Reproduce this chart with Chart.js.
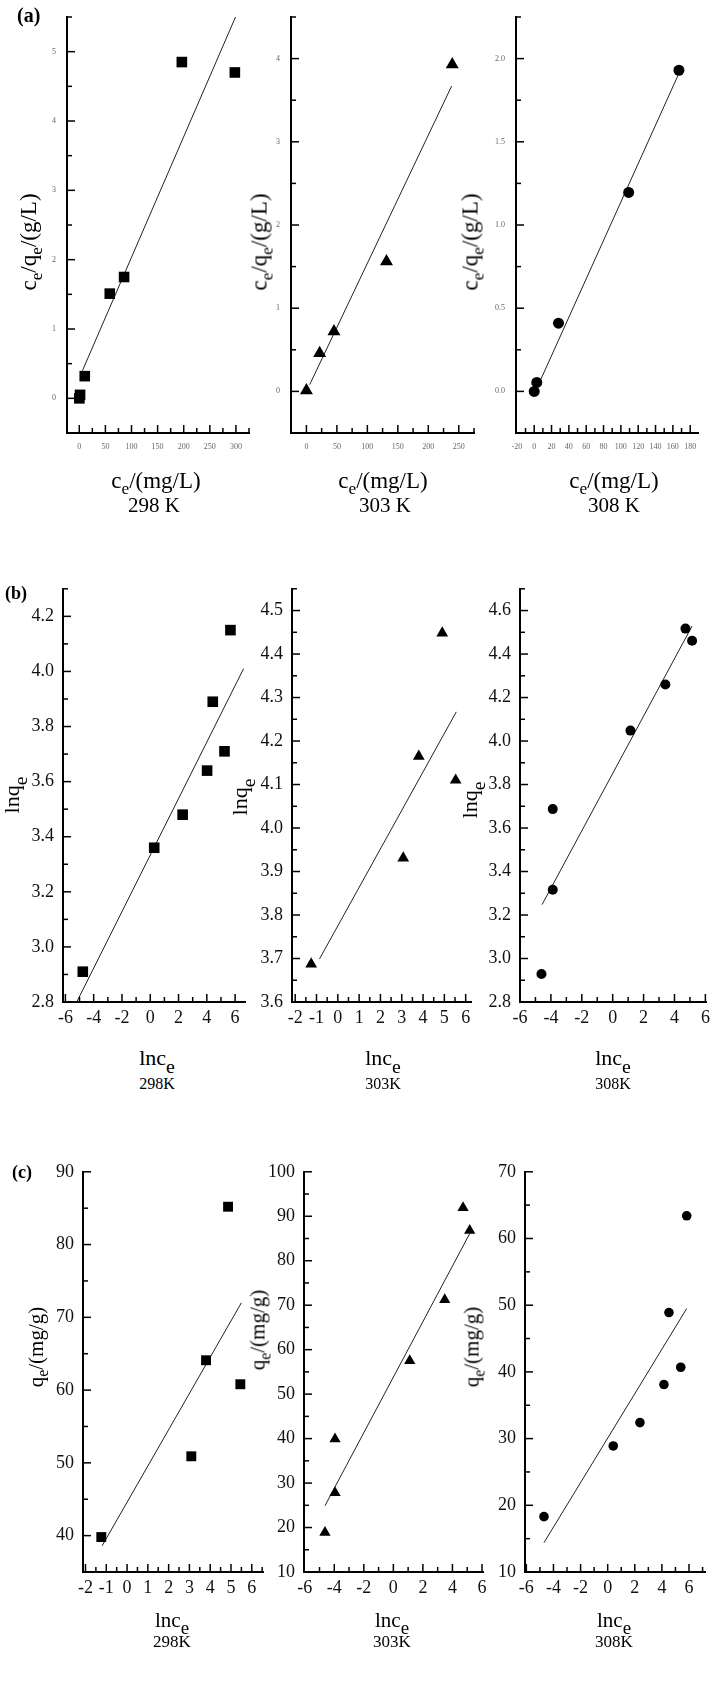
<!DOCTYPE html>
<html><head><meta charset="utf-8">
<script src="https://cdn.jsdelivr.net/npm/chart.js@4.4.0/dist/chart.umd.min.js"></script>
<style>
html,body{margin:0;padding:0;background:#fff;}
#fig{position:relative;width:713px;height:1699px;overflow:hidden;font-family:"Liberation Serif","Times New Roman",serif;color:#000;background:#fff;}
canvas{position:absolute;}
.t{position:absolute;white-space:nowrap;line-height:1;z-index:5;}
.c{transform:translate(-50%,-50%);}
.r{transform:translate(-50%,-50%) rotate(-90deg);}
.t sub{font-size:75%;vertical-align:-0.35em;line-height:0;}
.t sub.big{font-size:90%;vertical-align:-0.4em;}
</style></head><body><div id="fig"></div>
<script>
// ---------- DATA: row (a) Langmuir, ce/qe vs ce ----------
const a298_x = [0.2, 1.5, 10.5, 58.4, 85.8, 196.4, 297.9];
const a298_y = [0.00, 0.05, 0.32, 1.51, 1.75, 4.85, 4.70];
const a298_fitX = [6.1, 299.2];
const a298_fitY = [0.40, 5.50];
const a303_x = [0, 21.7, 45.2, 131.4, 239.3];
const a303_y = [0.01, 0.46, 0.72, 1.56, 3.93];
const a303_fitX = [5.3, 238.3];
const a303_fitY = [0.08, 3.67];
const a308_x = [0, 3, 28, 109, 167];
const a308_y = [0.00, 0.054, 0.41, 1.196, 1.93];
const a308_fitX = [4, 166];
const a308_fitY = [0.03, 1.90];
// ---------- DATA: row (b) Freundlich, lnqe vs lnce ----------
const b298_x = [-4.77, 0.28, 2.29, 4.02, 4.42, 5.25, 5.67];
const b298_y = [2.91, 3.36, 3.48, 3.64, 3.89, 3.71, 4.15];
const b298_fitX = [-5.2, 6.6];
const b298_fitY = [2.80, 4.01];
const b303_x = [-1.25, 3.07, 3.80, 4.90, 5.53];
const b303_y = [3.687, 3.931, 4.165, 4.448, 4.110];
const b303_fitX = [-0.86, 5.56];
const b303_fitY = [3.699, 4.267];
const b308_x = [-4.61, -3.88, -3.88, 1.15, 3.41, 4.71, 5.14];
const b308_y = [2.929, 3.316, 3.687, 4.048, 4.260, 4.517, 4.461];
const b308_fitX = [-4.57, 5.14];
const b308_fitY = [3.248, 4.529];
// ---------- DATA: row (c) Temkin, qe vs lnce ----------
const c298_x = [-1.24, 3.09, 3.80, 4.86, 5.45];
const c298_y = [39.8, 50.9, 64.1, 85.2, 60.8];
const c298_fitX = [-1.2, 5.5];
const c298_fitY = [38.6, 72.0];
const c303_x = [-4.63, -3.95, -3.95, 1.11, 3.48, 4.72, 5.17];
const c303_y = [18.9, 27.8, 39.9, 57.5, 71.2, 91.9, 86.8];
const c303_fitX = [-4.63, 5.17];
const c303_fitY = [24.9, 86.1];
const c308_x = [-4.70, 0.41, 2.38, 4.15, 4.52, 5.39, 5.83];
const c308_y = [18.3, 28.9, 32.4, 38.1, 48.9, 40.7, 63.4];
const c308_fitX = [-4.70, 5.83];
const c308_fitY = [14.4, 49.5];
// ---------- TICKS ----------
const a298_xTicks = [0, 50, 100, 150, 200, 250, 300];
const a298_yTicks = [0, 1, 2, 3, 4, 5];
const a303_xTicks = [0, 50, 100, 150, 200, 250];
const a303_yTicks = [0, 1, 2, 3, 4];
const a308_xTicks = [-20, 0, 20, 40, 60, 80, 100, 120, 140, 160, 180];
const a308_yTicks = [0.0, 0.5, 1.0, 1.5, 2.0];
const b298_xTicks = [-6, -4, -2, 0, 2, 4, 6];
const b298_yTicks = [2.8, 3.0, 3.2, 3.4, 3.6, 3.8, 4.0, 4.2];
const b303_xTicks = [-2, -1, 0, 1, 2, 3, 4, 5, 6];
const b303_yTicks = [3.6, 3.7, 3.8, 3.9, 4.0, 4.1, 4.2, 4.3, 4.4, 4.5];
const b308_xTicks = [-6, -4, -2, 0, 2, 4, 6];
const b308_yTicks = [2.8, 3.0, 3.2, 3.4, 3.6, 3.8, 4.0, 4.2, 4.4, 4.6];
const c298_xTicks = [-2, -1, 0, 1, 2, 3, 4, 5, 6];
const c298_yTicks = [40, 50, 60, 70, 80, 90];
const c303_xTicks = [-6, -4, -2, 0, 2, 4, 6];
const c303_yTicks = [10, 20, 30, 40, 50, 60, 70, 80, 90, 100];
const c308_xTicks = [-6, -4, -2, 0, 2, 4, 6];
const c308_yTicks = [10, 20, 30, 40, 50, 60, 70];

const FONT = '"Liberation Serif","Times New Roman",serif';
const fig = document.getElementById('fig');

const tickPlugin = {
  id: 'inTicks',
  afterDraw(chart) {
    const o = chart.options.plugins.inTicks;
    const {ctx, chartArea: {left, bottom}, scales: {x, y}} = chart;
    ctx.save();
    ctx.strokeStyle = '#000';
    ctx.lineWidth = 1.5;
    const isMajor = (list, v) => list.some(t => Math.abs(t - v) < 1e-6);
    const seq = (min, max, step) => {
      const out = [];
      for (let v = Math.ceil(min / step - 1e-6) * step; v <= max + 1e-9; v += step) out.push(+v.toFixed(6));
      return out;
    };
    seq(x.min, x.max, o.xStep).forEach(v => {
      const px = x.getPixelForValue(v);
      if (px <= left + 1) return;
      const len = isMajor(o.xMajor, v) ? 8 : 5;
      ctx.beginPath(); ctx.moveTo(px, bottom); ctx.lineTo(px, bottom - len); ctx.stroke();
    });
    seq(y.min, y.max, o.yStep).forEach(v => {
      const py = y.getPixelForValue(v);
      if (py >= bottom - 1) return;
      const len = isMajor(o.yMajor, v) ? 8 : 5;
      ctx.beginPath(); ctx.moveTo(left, py); ctx.lineTo(left + len, py); ctx.stroke();
    });
    ctx.restore();
  }
};

function pts(xs, ys) { return xs.map((v, i) => ({x: v, y: ys[i]})); }

function makePanel(p) {
  const [L, T, R, B] = p.box;
  const PL = 60, PT = 16, PR = 26, HX = 40;
  const cv = document.createElement('canvas');
  const w = Math.round(R - L + PL + PR), h = Math.round(B - T + PT + HX);
  cv.width = w; cv.height = h;
  cv.style.width = w + 'px'; cv.style.height = h + 'px';
  cv.style.left = (L - PL) + 'px'; cv.style.top = (T - PT) + 'px';
  fig.appendChild(cv);
  new Chart(cv, {
    type: 'scatter',
    data: {
      datasets: [
        {data: pts(p.xs, p.ys), pointStyle: p.marker, pointRadius: p.r, backgroundColor: '#000', borderColor: '#000', borderWidth: 0, showLine: false, clip: false},
        {data: pts(p.fx, p.fy), showLine: true, pointRadius: 0, borderColor: '#222', borderWidth: 1, clip: false}
      ]
    },
    options: {
      responsive: false, animation: false, events: [],
      layout: {padding: {left: 0, top: PT, right: PR, bottom: 0}},
      plugins: {legend: {display: false}, tooltip: {enabled: false},
        inTicks: {xMajor: p.xt, yMajor: p.yt, xStep: p.xs2, yStep: p.ys2}},
      scales: {
        x: {type: 'linear', min: p.xr[0], max: p.xr[1],
          afterBuildTicks: s => { s.ticks = p.xt.map(v => ({value: v})); },
          afterFit: s => { s.height = HX; },
          grid: {display: false, drawTicks: false},
          border: {display: true, color: '#000', width: 2},
          ticks: {autoSkip: false, maxRotation: 0, padding: p.xpad, color: p.tc,
            font: {family: FONT, size: p.fs},
            callback: (v, i) => p.dec === null ? String(p.xt[i]) : p.xt[i].toFixed(0)}},
        y: {type: 'linear', min: p.yr[0], max: p.yr[1],
          afterBuildTicks: s => { s.ticks = p.yt.map(v => ({value: v})); },
          afterFit: s => { s.width = PL; },
          grid: {display: false, drawTicks: false},
          border: {display: true, color: '#000', width: 2},
          ticks: {autoSkip: false, padding: p.ypad, color: p.tc,
            font: {family: FONT, size: p.fs},
            callback: (v, i) => p.dec === null ? String(p.yt[i]) : p.yt[i].toFixed(p.dec)}}
      }
    },
    plugins: [tickPlugin]
  });
}

const rowA = {fs: 8, tc: '#666', xpad: 9, ypad: 11};
const rowB = {fs: 18, tc: '#111', xpad: 5, ypad: 9};
const rowC = {fs: 18, tc: '#111', xpad: 5, ypad: 9};

const panels = [
  Object.assign({box: [67, 17, 249, 433], xr: [-23.5, 325], yr: [-0.5, 5.5], xt: a298_xTicks, yt: a298_yTicks, xs2: 25, ys2: 0.5, dec: null,
    xs: a298_x, ys: a298_y, fx: a298_fitX, fy: a298_fitY, marker: 'rect', r: 7.5}, rowA),
  Object.assign({box: [291.4, 17, 474, 433], xr: [-25.3, 275], yr: [-0.5, 4.5], xt: a303_xTicks, yt: a303_yTicks, xs2: 25, ys2: 0.5, dec: null,
    xs: a303_x, ys: a303_y, fx: a303_fitX, fy: a303_fitY, marker: 'triangle', r: 7.5}, rowA),
  Object.assign({box: [516, 17, 698, 433], xr: [-21, 189], yr: [-0.25, 2.25], xt: a308_xTicks, yt: a308_yTicks, xs2: 10, ys2: 0.25, dec: 1,
    xs: a308_x, ys: a308_y, fx: a308_fitX, fy: a308_fitY, marker: 'circle', r: 5.5}, rowA),
  Object.assign({box: [63, 585, 245, 1001.7], xr: [-6.17, 6.7], yr: [2.8, 4.3], xt: b298_xTicks, yt: b298_yTicks, xs2: 1, ys2: 0.1, dec: 1,
    xs: b298_x, ys: b298_y, fx: b298_fitX, fy: b298_fitY, marker: 'rect', r: 7.5}, rowB),
  Object.assign({box: [291.7, 585, 470.7, 1001.7], xr: [-2.15, 6.25], yr: [3.6, 4.55], xt: b303_xTicks, yt: b303_yTicks, xs2: 0.5, ys2: 0.05, dec: 1,
    xs: b303_x, ys: b303_y, fx: b303_fitX, fy: b303_fitY, marker: 'triangle', r: 6.8}, rowB),
  Object.assign({box: [520, 585, 705.7, 1001.7], xr: [-6, 6.04], yr: [2.8, 4.7], xt: b308_xTicks, yt: b308_yTicks, xs2: 1, ys2: 0.1, dec: 1,
    xs: b308_x, ys: b308_y, fx: b308_fitX, fy: b308_fitY, marker: 'circle', r: 5}, rowB),
  Object.assign({box: [82.7, 1167.7, 262.7, 1571.7], xr: [-2.12, 6.54], yr: [35, 90], xt: c298_xTicks, yt: c298_yTicks, xs2: 0.5, ys2: 5, dec: 0,
    xs: c298_x, ys: c298_y, fx: c298_fitX, fy: c298_fitY, marker: 'rect', r: 7}, rowC),
  Object.assign({box: [304, 1167.7, 483.3, 1571.7], xr: [-6.05, 6.07], yr: [10, 100], xt: c303_xTicks, yt: c303_yTicks, xs2: 1, ys2: 5, dec: 0,
    xs: c303_x, ys: c303_y, fx: c303_fitX, fy: c303_fitY, marker: 'triangle', r: 6.5}, rowC),
  Object.assign({box: [525, 1167.7, 705, 1571.7], xr: [-6.1, 7.18], yr: [10, 70], xt: c308_xTicks, yt: c308_yTicks, xs2: 1, ys2: 5, dec: 0,
    xs: c308_x, ys: c308_y, fx: c308_fitX, fy: c308_fitY, marker: 'circle', r: 4.8}, rowC)
];
panels.forEach(makePanel);

// ---------- TEXT ----------
function txt(html, x, y, size, cls, extra) {
  const d = document.createElement('div');
  d.className = 't ' + cls;
  d.innerHTML = html;
  d.style.left = x + 'px'; d.style.top = y + 'px'; d.style.fontSize = size + 'px';
  if (extra) Object.assign(d.style, extra);
  fig.appendChild(d);
}
const bold = {fontWeight: 'bold', transform: 'none'};
txt('(a)', 17, 5, 20, '', bold);
txt('(b)', 5, 584, 18, '', bold);
txt('(c)', 12, 1163, 18, '', bold);

const titleA_y = 'c<sub>e</sub>/q<sub>e</sub>/(g/L)';
const titleA_x = 'c<sub>e</sub>/(mg/L)';
[[28, 156, 154, '298 K'], [259, 383, 385, '303 K'], [470, 614, 614, '308 K']].forEach(([yx, xx, tx, t]) => {
  txt(titleA_y, yx, 242, 23, 'r');
  txt(titleA_x, xx, 480, 23, 'c');
  txt(t, tx, 505, 21, 'c');
});
const titleB_y = 'lnq<sub class="big">e</sub>';
const titleB_x = 'lnc<sub class="big">e</sub>';
[[12, 795, 157, '298K'], [240, 797, 383, '303K'], [470, 800, 613, '308K']].forEach(([yx, yy, xx, t]) => {
  txt(titleB_y, yx, yy, 22, 'r');
  txt(titleB_x, xx, 1058, 22, 'c');
  txt(t, xx, 1084, 16, 'c');
});
const titleC_y = 'q<sub>e</sub>/(mg/g)';
const titleC_x = 'lnc<sub class="big">e</sub>';
[[36, 1347, 172, '298K'], [258, 1330, 392, '303K'], [472, 1347, 614, '308K']].forEach(([yx, yy, xx, t]) => {
  txt(titleC_y, yx, yy, 21, 'r');
  txt(titleC_x, xx, 1620, 21, 'c');
  txt(t, xx, 1641, 17, 'c');
});
</script>
</body></html>
